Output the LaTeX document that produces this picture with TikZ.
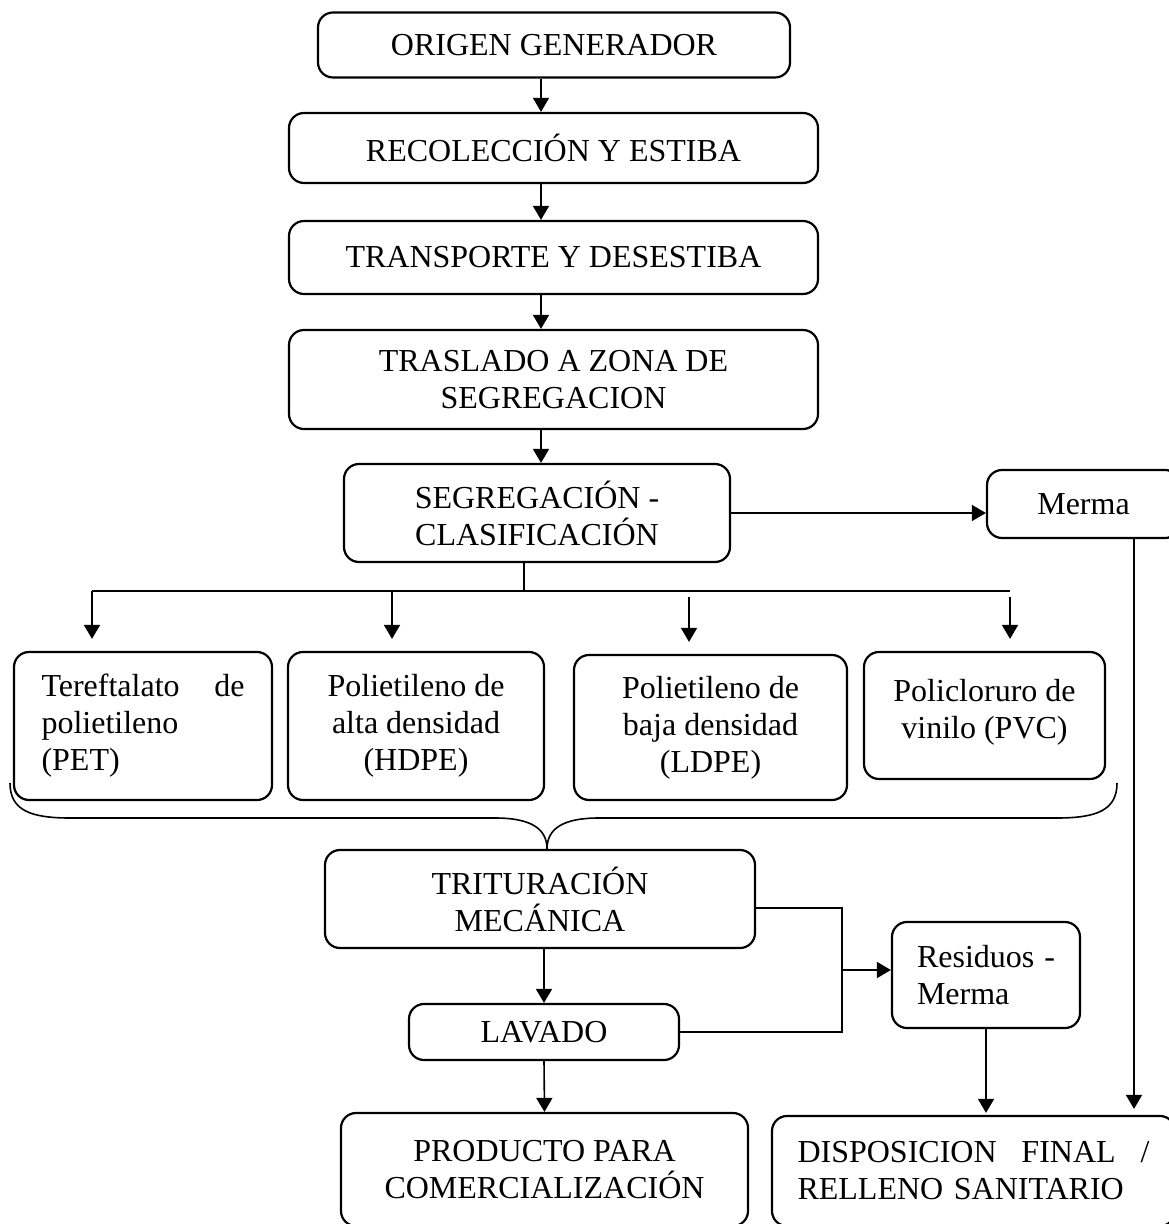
\documentclass[tikz,border=0pt]{standalone}
\usepackage{fontspec}
\setmainfont{Liberation Serif}
\usetikzlibrary{arrows.meta,calc}
\tikzset{%
  procbox/.style = {shape=rectangle, rounded corners=7.5pt,%
                    draw, line width=1.1pt, inner sep=0pt,%
                    align=center, font=\fontsize{16}{18.5}\selectfont},%
  leftbox/.style = {procbox, align=left},%
  arr/.style     = {-{Triangle[length=7pt,width=8pt]}, line width=0.8pt},%
  wire/.style    = {line width=0.8pt}%
}

\begin{document}
\begin{tikzpicture}[x=0.5pt,y=-0.5pt]
\useasboundingbox (0,0) rectangle (1168,1224);
% main chain
\node[procbox, minimum width=236pt, minimum height=32.5pt] (orig) at (554,45) {ORIGEN GENERADOR};
\node[procbox, minimum width=264.5pt, minimum height=35pt] (recol) at (553.5,148) {RECOLECCIÓN Y ESTIBA};
\node[procbox, minimum width=264.5pt, minimum height=36.5pt] (transp) at (553.5,257.5) {TRANSPORTE Y DESESTIBA};
\node[procbox, minimum width=264.5pt, minimum height=49.5pt] (trasl) at (553.5,379.5) {TRASLADO A ZONA DE\\SEGREGACION};
\node[procbox, minimum width=193pt, minimum height=49pt] (segreg) at (537,513) {SEGREGACIÓN -\\CLASIFICACIÓN};
\node[procbox, minimum width=96.5pt, minimum height=34pt] (merma) at (1083.5,504) {Merma};
% plastics
\node[leftbox, minimum width=129pt, minimum height=74pt, text width=101.5pt] (pet) at (143,726) {Tereftalato\hfill de\\polietileno\\(PET)};
\node[procbox, minimum width=128pt, minimum height=74pt] (hdpe) at (416,726) {Polietileno de\\alta densidad\\(HDPE)};
\node[procbox, minimum width=136.5pt, minimum height=72.5pt] (ldpe) at (710.5,727.5) {Polietileno de\\baja densidad\\(LDPE)};
\node[procbox, minimum width=120.5pt, minimum height=63.5pt, text depth=7pt] (pvc) at (984.5,715.5) {Policloruro de\\vinilo (PVC)};
% processing
\node[procbox, minimum width=215pt, minimum height=49pt] (tritur) at (540,899) {TRITURACIÓN\\MECÁNICA};
\node[procbox, minimum width=135pt, minimum height=28pt] (lavado) at (544,1032) {LAVADO};
\node[leftbox, minimum width=94pt, minimum height=53pt, text width=69pt] (resid) at (986,975) {Residuos\hfill -\\Merma};
\node[procbox, minimum width=203.5pt, minimum height=56.5pt] (prod) at (544.5,1169.5) {PRODUCTO PARA\\COMERCIALIZACIÓN};
\node[leftbox, minimum width=201.5pt, minimum height=55pt, text width=176pt] (disp) at (973.5,1171) {DISPOSICION\hfill FINAL\hfill /\\RELLENO SANITARIO};

% helper coordinates
\coordinate (spine) at (541,0);
\coordinate (bus) at (524,591);
\coordinate (dPET) at (92,591);
\coordinate (dHDPE) at (392,591);
\coordinate (dLDPE) at (689,591);
\coordinate (dPVC) at (1010,591);
\coordinate (mx) at (1134,0);
\coordinate (jn) at (842,970);

% connectors
\draw[arr] (orig.south -| spine) -- (recol.north -| spine);
\draw[arr] (recol.south -| spine) -- (transp.north -| spine);
\draw[arr] (transp.south -| spine) -- (trasl.north -| spine);
\draw[arr] (trasl.south -| spine) -- (segreg.north -| spine);
\draw[arr] (segreg.east) -- (segreg.east -| merma.west);
\draw[wire] (segreg.south -| bus) -- (bus);
\draw[wire] (dPET) -- (dPVC);
\draw[arr, shorten >=6pt] (dPET) -- (dPET |- pet.north);
\draw[arr, shorten >=6pt] (dHDPE) -- (dHDPE |- hdpe.north);
\draw[arr, shorten >=6pt] ([yshift=-3pt]dLDPE) -- (dLDPE |- ldpe.north);
\draw[arr, shorten >=6pt] ([yshift=-3pt]dPVC) -- (dPVC |- pvc.north);
\draw[arr, shorten >=3pt] (merma.south -| mx) -- (disp.north -| mx);
% brace
\draw[line width=0.8pt] (10,783) .. controls (10,810) and (30,818) .. (70,818) -- (495,818)
  .. controls (530,818) and (547,828) .. (547,849)
  .. controls (547,828) and (564,818) .. (599,818) -- (1057,818)
  .. controls (1097,818) and (1117,810) .. (1117,783);
\draw[arr] (tritur.south -| lavado.north) -- (lavado.north);
\draw[arr] (lavado.south) -- (prod.north);
\draw[wire] ([yshift=-4.5pt]tritur.east) -| (jn) |- (lavado.east);
\draw[arr] (jn) -- (jn -| resid.west);
\draw[arr, shorten >=1pt] (resid.south) -- (resid.south |- disp.north);
\end{tikzpicture}
\end{document}
